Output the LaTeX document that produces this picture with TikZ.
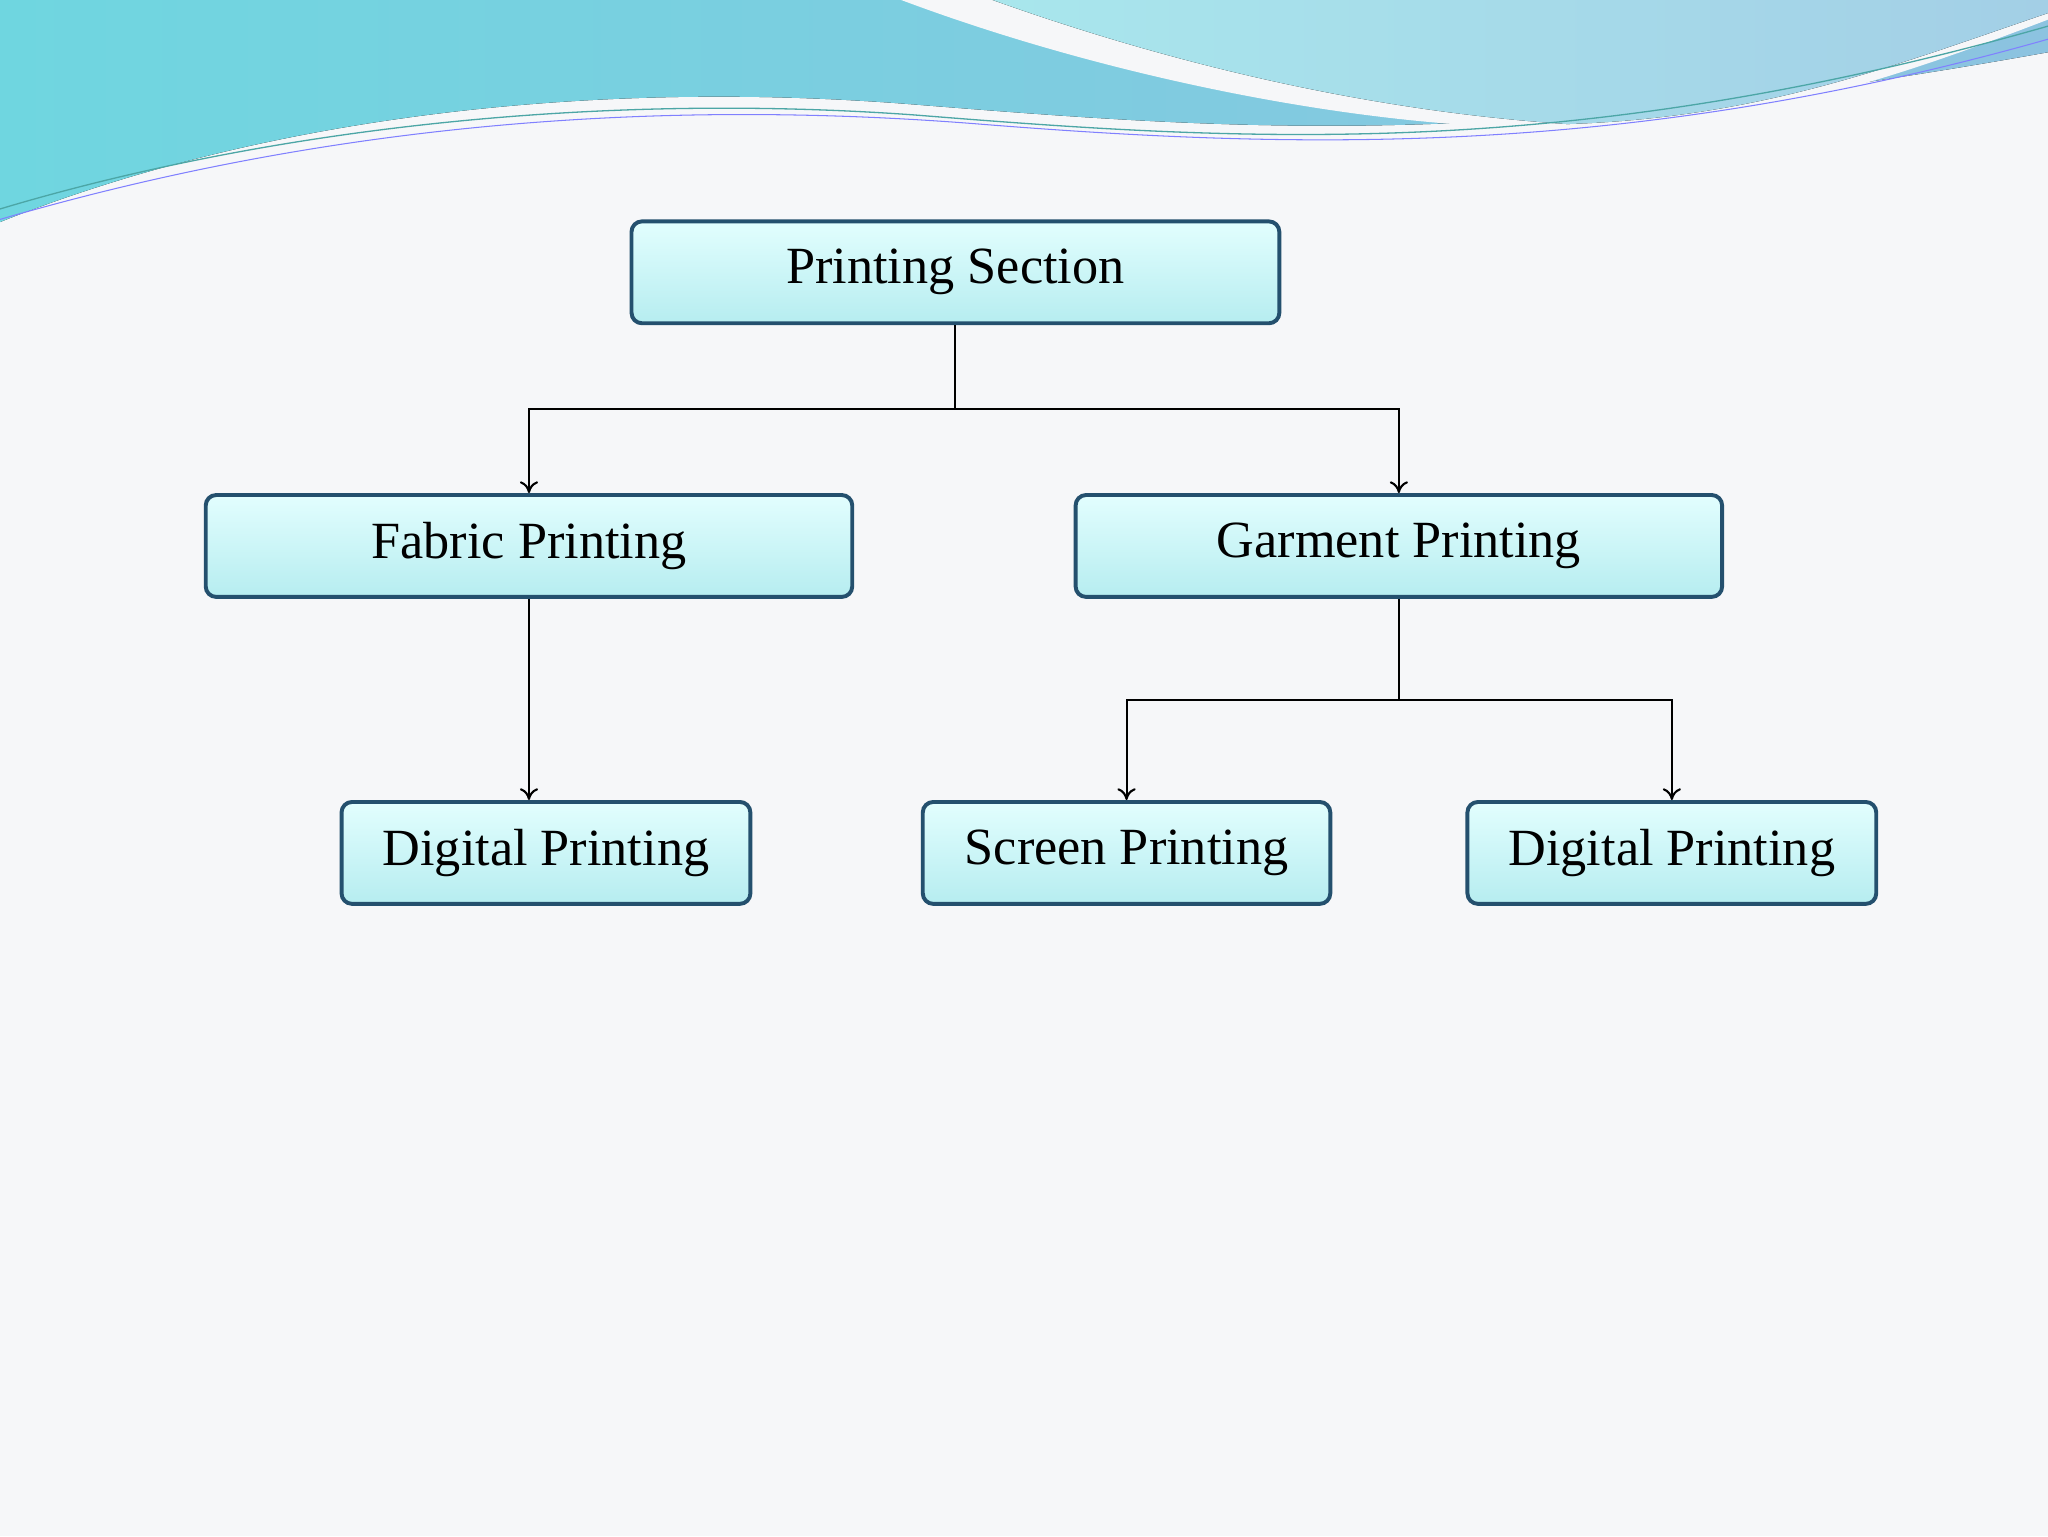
\documentclass[tikz,border=0pt]{standalone}
\usepackage{fontspec}
\setmainfont{Liberation Serif}
\usetikzlibrary{arrows.meta}
\definecolor{bg}{HTML}{F6F7F9}
\definecolor{bord}{HTML}{24506E}
\definecolor{boxtop}{HTML}{E2FEFE}
\definecolor{boxbot}{HTML}{B6EDF0}
\definecolor{waveA}{HTML}{6FD6E0}
\definecolor{waveB}{HTML}{8CC3E0}
\begin{document}
\begin{tikzpicture}[x=1pt,y=-1pt,
  box/.style={draw=bord,line width=3pt,rounded corners=8pt,top color=boxtop,bottom color=boxbot,
    minimum height=78pt,inner sep=0pt,font=\fontsize{40}{46}\selectfont},
  conn/.style={line width=1.6pt,black},
  arr/.style={conn,-{To[length=9pt,width=14pt]}}]
\fill[bg] (0,0) rectangle (1568,1176);
\useasboundingbox (0,0) rectangle (1568,1176);
% top wave
\fill[left color=waveA,right color=waveB] (0,0) -- (0,170) .. controls (200,90) and (450,60) .. (700,80)
  .. controls (950,100) and (1150,115) .. (1568,40) -- (1568,0) -- cycle;
\fill[bg] (690,0) .. controls (850,60) and (1050,100) .. (1200,98) .. controls (1350,95) and (1450,60) .. (1568,15) -- (1568,0) -- cycle;
\fill[left color=waveA!60,right color=waveB!80] (760,0) .. controls (900,50) and (1050,85) .. (1200,95) .. controls (1350,90) and (1450,50) .. (1568,10) -- (1568,0) -- cycle;
\fill[bg] (0,175) .. controls (200,110) and (450,80) .. (700,95) .. controls (950,112) and (1200,128) .. (1568,45) -- (1568,60) .. controls (1200,140) and (900,125) .. (700,112) .. controls (450,95) and (200,120) .. (0,180) -- cycle;
\draw[teal!70,line width=1pt] (0,160) .. controls (200,100) and (450,70) .. (700,88) .. controls (950,108) and (1200,125) .. (1568,20);
\draw[blue!50,line width=0.8pt] (0,168) .. controls (250,95) and (500,75) .. (750,95) .. controls (1000,115) and (1250,120) .. (1568,30);
% nodes
\node[box,minimum width=496pt] (ps) at (731.5,208.5) {Printing Section};
\node[box,minimum width=495pt] (fp) at (405,418) {Fabric Printing};
\node[box,minimum width=495pt] (gp) at (1071,418) {Garment Printing};
\node[box,minimum width=313pt] (d1) at (418,653) {Digital Printing};
\node[box,minimum width=312pt] (sp) at (862.5,653) {Screen Printing};
\node[box,minimum width=313pt] (d2) at (1280,653) {Digital Printing};
\coordinate (j1) at (731.5,313);
\coordinate (j2) at (1071,536);
\draw[conn] (ps.south) -- (j1);
\draw[arr] (j1) -| (fp.north);
\draw[arr] (j1) -| (gp.north);
\draw[arr] (fp.south) -- (fp.south |- d1.north);
\draw[conn] (gp.south) -- (j2);
\draw[arr] (j2) -| (sp.north);
\draw[arr] (j2) -| (d2.north);
\end{tikzpicture}
\end{document}
